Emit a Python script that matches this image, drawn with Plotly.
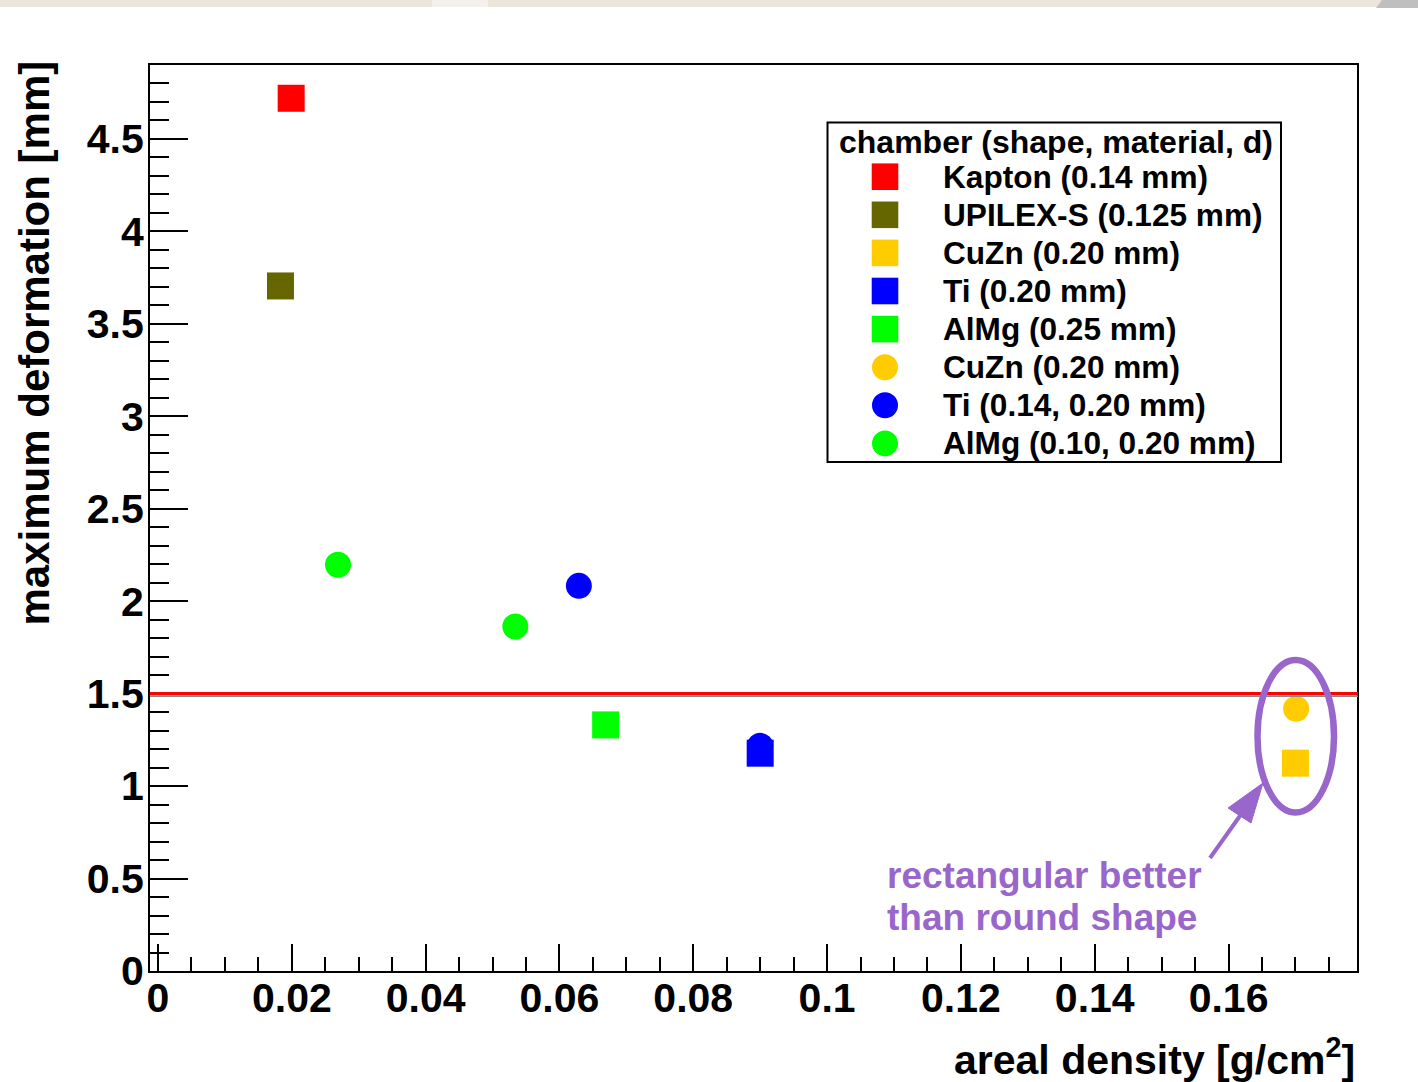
import plotly.graph_objects as go

# ---------------- data ----------------
kapton_sq_x = [0.0199]
kapton_sq_y = [4.72]
upilex_sq_x = [0.0183]
upilex_sq_y = [3.705]
cuzn_sq_x = [0.1700]
cuzn_sq_y = [1.124]
ti_sq_x = [0.0900]
ti_sq_y = [1.178]
almg_sq_x = [0.0669]
almg_sq_y = [1.331]
cuzn_ci_x = [0.1701]
cuzn_ci_y = [1.418]
ti_ci_x = [0.0629, 0.0900]
ti_ci_y = [2.083, 1.218]
almg_ci_x = [0.0269, 0.0534]
almg_ci_y = [2.197, 1.863]

limit_y = 1.5

legend_labels = ["Kapton (0.14 mm)", "UPILEX-S (0.125 mm)", "CuZn (0.20 mm)", "Ti (0.20 mm)",
                 "AlMg (0.25 mm)", "CuZn (0.20 mm)", "Ti (0.14, 0.20 mm)", "AlMg (0.10, 0.20 mm)"]
legend_symbols = ["square", "square", "square", "square", "square", "circle", "circle", "circle"]
legend_colors = ["#FF0000", "#666600", "#FFCC00", "#0000FF", "#00FF00", "#FFCC00", "#0000FF", "#00FF00"]

x_tickvals = [0, 0.02, 0.04, 0.06, 0.08, 0.1, 0.12, 0.14, 0.16]
x_ticktext = ["0", "0.02", "0.04", "0.06", "0.08", "0.1", "0.12", "0.14", "0.16"]
y_tickvals = [0, 0.5, 1, 1.5, 2, 2.5, 3, 3.5, 4, 4.5]
y_ticktext = ["0", "0.5", "1", "1.5", "2", "2.5", "3", "3.5", "4", "4.5"]

# ---------------- layout geometry ----------------
W, H = 1418, 1082
PL, PR, PT, PB = 150, 1357, 65, 971
FONT = "Liberation Sans, Arial, sans-serif"
PURPLE = "#9966CC"


def fx(px):
    return (px - PL) / (PR - PL)


def fy(py):
    return (PB - py) / (PB - PT)


series = [
    (kapton_sq_x, kapton_sq_y, "square", legend_colors[0], 27),
    (upilex_sq_x, upilex_sq_y, "square", legend_colors[1], 27),
    (cuzn_sq_x, cuzn_sq_y, "square", legend_colors[2], 27),
    (ti_sq_x, ti_sq_y, "square", legend_colors[3], 27),
    (almg_sq_x, almg_sq_y, "square", legend_colors[4], 27),
    (cuzn_ci_x, cuzn_ci_y, "circle", legend_colors[5], 26),
    (ti_ci_x, ti_ci_y, "circle", legend_colors[6], 26),
    (almg_ci_x, almg_ci_y, "circle", legend_colors[7], 26),
]

fig = go.Figure()
for (xs, ys, sym, col, sz), name in zip(series, legend_labels):
    fig.add_trace(go.Scatter(x=xs, y=ys, mode="markers", name=name, showlegend=False,
                             marker=dict(symbol=sym, color=col, size=sz, line=dict(width=0))))

shapes = []
# top beige strip
shapes.append(dict(type="rect", xref="paper", yref="paper", x0=fx(0), x1=fx(W), y0=fy(7), y1=fy(0),
                   fillcolor="#ECE5DC", line=dict(width=0), layer="below"))
shapes.append(dict(type="rect", xref="paper", yref="paper", x0=fx(432), x1=fx(488), y0=fy(7), y1=fy(0),
                   fillcolor="#F4F1ED", line=dict(width=0), layer="below"))
shapes.append(dict(type="path", xref="paper", yref="paper",
                   path=f"M {fx(1376)},{fy(8)} L {fx(1382)},{fy(0)} L {fx(W)},{fy(0)} L {fx(W)},{fy(8)} Z",
                   fillcolor="#BFBFBF", line=dict(width=0), layer="below"))
# 1.5 mm limit line (with grey shadow)
shapes.append(dict(type="line", xref="paper", yref="y", x0=0, x1=fx(1358),
                   y0=limit_y - 2.6 / 184.8, y1=limit_y - 2.6 / 184.8, line=dict(color="#888888", width=1.5)))
shapes.append(dict(type="line", xref="paper", yref="y", x0=0, x1=fx(1358),
                   y0=limit_y, y1=limit_y, line=dict(color="#FF0000", width=3.3)))
# ellipse
shapes.append(dict(type="circle", xref="paper", yref="paper", x0=fx(1257.5), x1=fx(1334), y0=fy(812.5), y1=fy(660),
                   line=dict(color=PURPLE, width=6.5)))
# arrow
shapes.append(dict(type="line", xref="paper", yref="paper", x0=fx(1210), y0=fy(858), x1=fx(1242), y1=fy(813),
                   line=dict(color=PURPLE, width=4)))
shapes.append(dict(type="path", xref="paper", yref="paper",
                   path=f"M {fx(1263)},{fy(783)} L {fx(1228)},{fy(808)} L {fx(1251)},{fy(823)} Z",
                   fillcolor=PURPLE, line=dict(color=PURPLE, width=1)))
# legend box
LX0, LX1, LY0, LY1 = 827.5, 1281, 122.5, 462
shapes.append(dict(type="rect", xref="paper", yref="paper", x0=fx(LX0), x1=fx(LX1), y0=fy(LY1), y1=fy(LY0),
                   fillcolor="white", line=dict(color="black", width=2)))

annotations = []
annotations.append(dict(text="chamber (shape, material, d)", xref="paper", yref="paper",
                        x=fx(1056), y=fy(141.5), xanchor="center", yanchor="middle", showarrow=False,
                        font=dict(family=FONT, size=32, color="black", weight="bold")))
row0, drow = 176.7, 38.1
for i, (lab, sym, col) in enumerate(zip(legend_labels, legend_symbols, legend_colors)):
    cy = row0 + i * drow
    half = 13.3 if sym == "square" else 13
    shapes.append(dict(type="rect" if sym == "square" else "circle", xref="paper", yref="paper",
                       xsizemode="pixel", ysizemode="pixel", xanchor=fx(885), yanchor=fy(cy),
                       x0=-half, x1=half, y0=-half, y1=half,
                       fillcolor=col, line=dict(width=0)))
    annotations.append(dict(text=lab, xref="paper", yref="paper", x=fx(941), y=fy(cy),
                            xanchor="left", yanchor="middle", showarrow=False,
                            font=dict(family=FONT, size=31.6, color="black", weight="bold")))

# axis titles
annotations.append(dict(text="maximum deformation [mm]", xref="paper", yref="paper", x=fx(34), y=fy(343.5),
                        xanchor="center", yanchor="middle", textangle=-90, showarrow=False,
                        font=dict(family=FONT, size=42, color="black", weight="bold")))
annotations.append(dict(text="areal density [g/cm<sup>2</sup>]", xref="paper", yref="paper", x=fx(1357), y=fy(1057),
                        xanchor="right", yanchor="middle", showarrow=False,
                        font=dict(family=FONT, size=41, color="black", weight="bold")))
# purple note
annotations.append(dict(text="rectangular better", xref="paper", yref="paper", x=fx(885), y=fy(875),
                        xanchor="left", yanchor="middle", showarrow=False,
                        font=dict(family=FONT, size=37, color=PURPLE, weight="bold")))
annotations.append(dict(text="than round shape", xref="paper", yref="paper", x=fx(885), y=fy(917),
                        xanchor="left", yanchor="middle", showarrow=False,
                        font=dict(family=FONT, size=37, color=PURPLE, weight="bold")))

fig.update_layout(
    width=W, height=H,
    margin=dict(l=PL, r=W - PR, t=PT, b=H - PB, autoexpand=False),
    paper_bgcolor="white", plot_bgcolor="white",
    showlegend=False,
    shapes=shapes, annotations=annotations,
    font=dict(family=FONT, color="black"),
)
fig.update_xaxes(range=[-0.0012, 0.1792], showgrid=False, zeroline=False,
                 showline=True, linecolor="black", linewidth=2, mirror=True,
                 ticks="inside", ticklen=27, tickwidth=2, tickcolor="black",
                 tickvals=x_tickvals, ticktext=x_ticktext, ticklabelstandoff=-10,
                 tickfont=dict(family=FONT, size=41, color="black", weight="bold"),
                 minor=dict(ticks="inside", ticklen=14, tickwidth=2, tickcolor="black", dtick=0.005, tick0=0, showgrid=False))
fig.update_yaxes(range=[0, 4.9], showgrid=False, zeroline=False,
                 showline=True, linecolor="black", linewidth=2, mirror=True,
                 ticks="inside", ticklen=38, tickwidth=2, tickcolor="black",
                 tickvals=y_tickvals, ticktext=y_ticktext, ticklabelstandoff=-4,
                 tickfont=dict(family=FONT, size=41, color="black", weight="bold"),
                 minor=dict(ticks="inside", ticklen=19, tickwidth=2, tickcolor="black", dtick=0.1, tick0=0, showgrid=False))

fig.write_html("out.html")
